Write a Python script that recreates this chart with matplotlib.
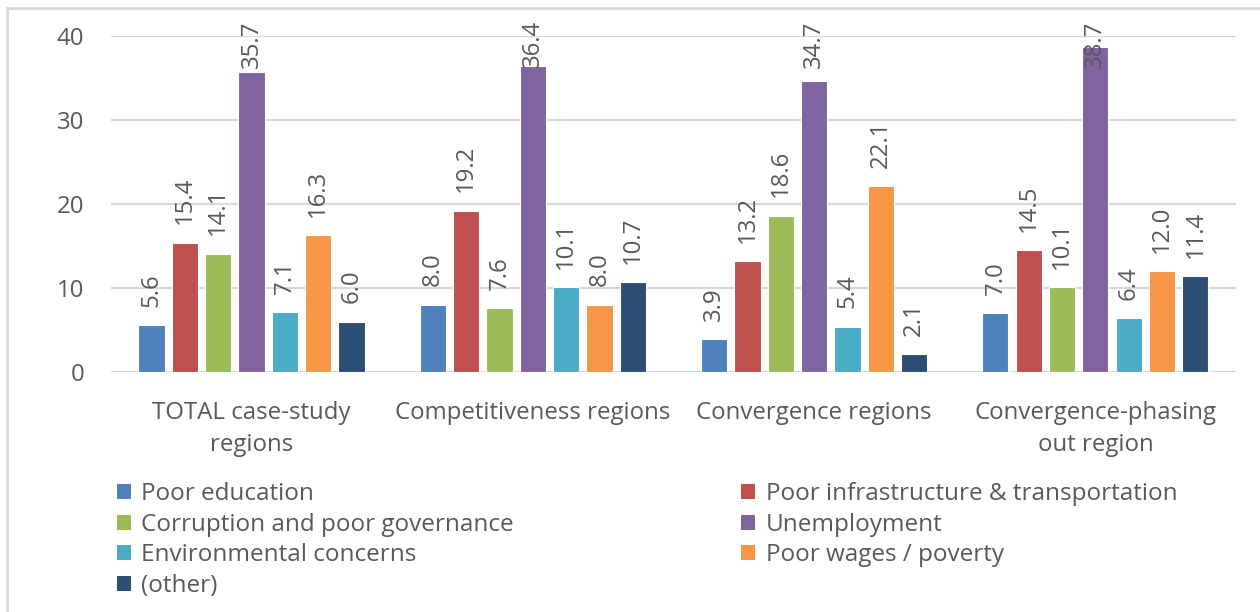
import matplotlib
matplotlib.use("Agg")
import matplotlib.pyplot as plt
import numpy as np
from matplotlib.patches import Patch
from matplotlib.lines import Line2D

plt.rcParams['font.family'] = ['Open Sans', 'DejaVu Sans']

# data
groups = ["TOTAL case-study\nregions", "Competitiveness regions",
          "Convergence regions", "Convergence-phasing\nout region"]
series = ["Poor education", "Poor infrastructure & transportation",
          "Corruption and poor governance", "Unemployment",
          "Environmental concerns", "Poor wages / poverty", "(other)"]
poor_education = [5.6, 8.0, 3.9, 7.0]
poor_infra = [15.4, 19.2, 13.2, 14.5]
corruption = [14.1, 7.6, 18.6, 10.1]
unemployment = [35.7, 36.4, 34.7, 38.7]
environment = [7.1, 10.1, 5.4, 6.4]
poor_wages = [16.3, 8.0, 22.1, 12.0]
other = [6.0, 10.7, 2.1, 11.4]
values = [poor_education, poor_infra, corruption, unemployment,
          environment, poor_wages, other]
colors = ["#4F81BD", "#C0504D", "#9BBB59", "#8064A2",
          "#4BACC6", "#F79646", "#2C4D75"]
yticks = [0, 10, 20, 30, 40]

txt = "#595959"
grid = "#d9d9d9"
fs = 17.3

fig = plt.figure(figsize=(12.6, 6.12), dpi=100)
ax = fig.add_axes([0.088, 0.392, 0.893, 0.549])

x = np.arange(len(groups))
slot = 0.1185
width = 0.093
handles = []
for i, (name, vals, c) in enumerate(zip(series, values, colors)):
    pos = x + (i - 3) * slot
    ax.bar(pos, vals, width, color=c, edgecolor="white", linewidth=0.8, zorder=3)
    handles.append(Patch(facecolor=c, label=name))
    for px_, v in zip(pos, vals):
        y = v + 2.2
        if y + 5.9 > 41.9:
            # label would stick out of the plot, keep it at the top
            ax.text(px_, 41.9, f"{v:.1f}", rotation=90, ha="center", va="top",
                    fontsize=fs, color=txt, zorder=4, clip_on=False)
        else:
            ax.text(px_, y, f"{v:.1f}", rotation=90, ha="center", va="bottom",
                    fontsize=fs, color=txt, zorder=4, clip_on=False)

ax.set_xlim(-0.5, 3.5)
ax.set_ylim(0, 40)
ax.set_yticks(yticks)
ax.set_yticklabels([str(t) for t in yticks])
ax.set_xticks(x)
ax.set_xticklabels(groups, linespacing=1.42)
ax.tick_params(axis="y", length=0, pad=19, labelsize=fs, labelcolor=txt)
ax.tick_params(axis="x", length=0, pad=21, labelsize=fs, labelcolor=txt)
ax.grid(axis="y", color=grid, linewidth=1.6, zorder=0)
for s in ax.spines.values():
    s.set_visible(False)

order = [0, 2, 4, 6, 1, 3, 5]
fig.legend([handles[k] for k in order], [series[k] for k in order],
           loc="upper left", bbox_to_anchor=(0.093, 0.212), ncol=2,
           frameon=False, fontsize=17.5, labelcolor=txt,
           handlelength=0.55, handleheight=0.55, handletextpad=0.45,
           labelspacing=0.27, columnspacing=9.35, borderpad=0, borderaxespad=0)

# outer chart frame
fig.add_artist(Line2D([7 / 1260, 7 / 1260], [0, 1 - 8 / 612], transform=fig.transFigure,
                      color=grid, linewidth=2))
fig.add_artist(Line2D([7 / 1260, 1], [1 - 8 / 612, 1 - 8 / 612], transform=fig.transFigure,
                      color=grid, linewidth=2))

fig.savefig("out.png", dpi=100)
